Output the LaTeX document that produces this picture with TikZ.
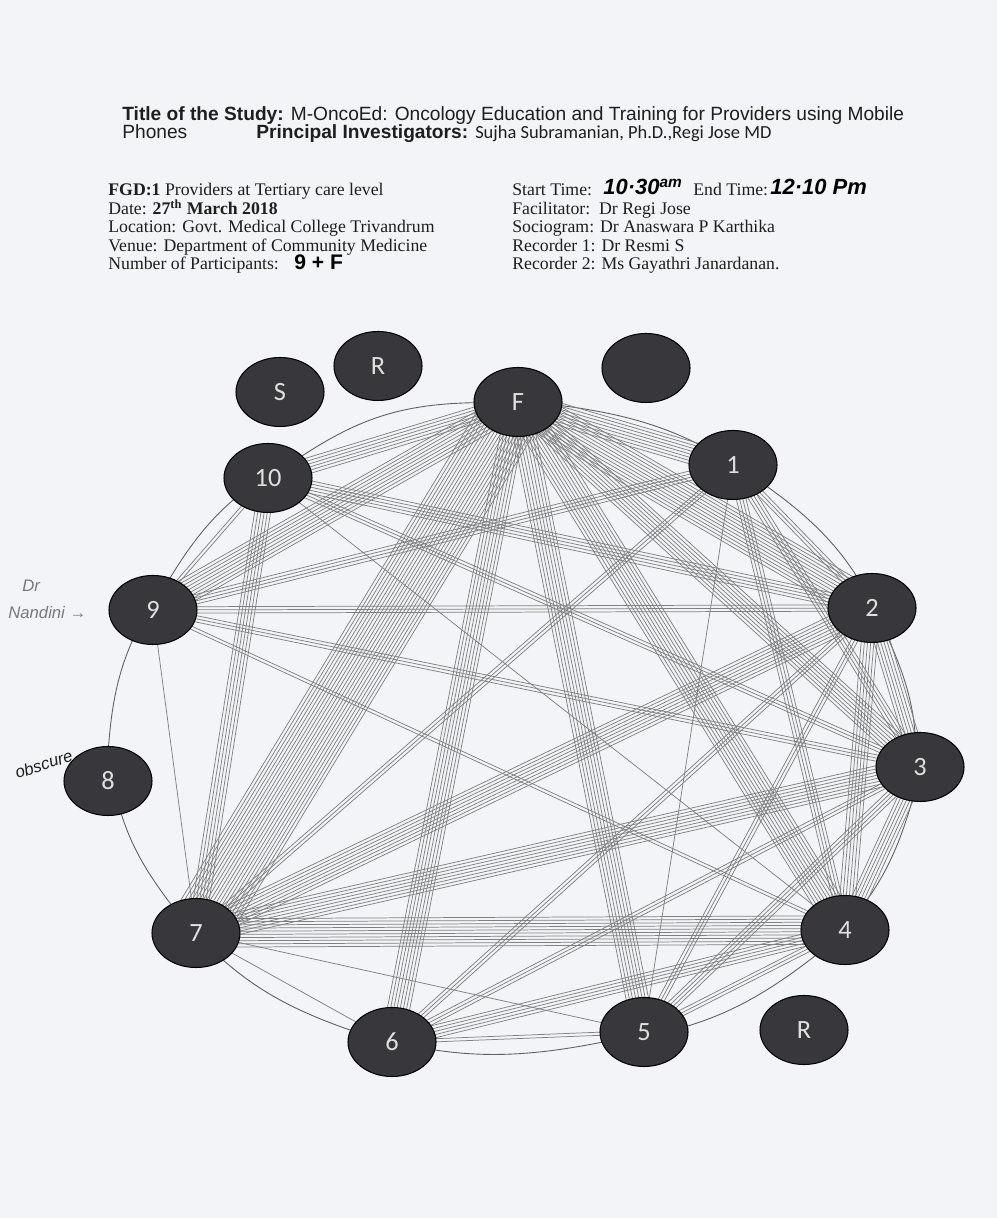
\documentclass[tikz,border=0pt]{standalone}
\usepackage{fontspec}
\setmainfont{Liberation Serif}
\setsansfont{Liberation Sans}
\newfontfamily\calfont{Carlito}
\usetikzlibrary{shapes.geometric,calc,backgrounds}
\definecolor{paper}{RGB}{243,244,247}
\definecolor{dot}{RGB}{56,56,60}
\definecolor{wire}{RGB}{128,128,130}
\definecolor{ink}{RGB}{30,30,30}
\definecolor{pencil}{RGB}{120,120,125}

\begin{document}
\begin{tikzpicture}
        \tikzset{vertex/.style = {shape=ellipse,draw=black,line width=0.6pt,fill=dot,minimum width=1.76cm,minimum height=1.38cm,inner sep=0pt,text=white!88!black,font=\calfont\fontsize{15}{18}\selectfont}}
        \tikzset{tie/.style = {draw=wire,line width=0.42pt}}
        \tikzset{ring/.style = {draw=wire!75!black,line width=0.5pt}}
        \tikzset{line/.style = {anchor=base west,text=ink,inner sep=0pt}}
        \tikzset{hand/.style = {anchor=base west,inner sep=0pt,font=\sffamily\bfseries\itshape}}
        \useasboundingbox (0,0) rectangle (19.94,24.36);
        % header
        \node[line,font=\sffamily\fontsize{10.9}{12}\selectfont] (title) at (2.44,21.94) {\textbf{Title of the Study:} M-OncoEd: Oncology Education and Training for Providers using Mobile};
        \node[line,font=\sffamily\fontsize{10.9}{12}\selectfont] (phones) at (2.44,21.58) {Phones};
        \node[line,font=\sffamily\fontsize{10.9}{12}\selectfont] (pi) at (5.12,21.58) {\textbf{Principal Investigators:} {\calfont\fontsize{10.5}{12}\selectfont Sujha Subramanian, Ph.D.,Regi Jose MD}};
        % left block
        \node[line,font=\fontsize{10.1}{12}\selectfont] (fgd) at (2.16,20.44) {\textbf{FGD:1} Providers at Tertiary care level};
        \node[line,font=\fontsize{10.1}{12}\selectfont] (date) at (2.16,20.07) {Date: \textbf{27\textsuperscript{th} March 2018}};
        \node[line,font=\fontsize{10.1}{12}\selectfont] (loc) at (2.16,19.70) {Location: Govt. Medical College Trivandrum};
        \node[line,font=\fontsize{10.1}{12}\selectfont] (venue) at (2.16,19.33) {Venue: Department of Community Medicine};
        \node[line,font=\fontsize{10.1}{12}\selectfont] (num) at (2.16,18.96) {Number of Participants:};
        \node[hand,font=\sffamily\bfseries\fontsize{12}{14}\selectfont] (count) at (5.88,18.96) {9 + F};
        % right block
        \node[line,font=\fontsize{10.1}{12}\selectfont] (start) at (10.24,20.44) {Start Time:};
        \node[hand,font=\sffamily\bfseries\itshape\fontsize{12.5}{14}\selectfont] (t1) at (12.06,20.46) {10·30\textsuperscript{am}};
        \node[line,font=\fontsize{10.1}{12}\selectfont] (end) at (13.86,20.44) {End Time:};
        \node[hand,font=\sffamily\bfseries\itshape\fontsize{12.5}{14}\selectfont] (t2) at (15.40,20.46) {12·10 Pm};
        \node[line,font=\fontsize{10.1}{12}\selectfont] (fac) at (10.24,20.07) {Facilitator:\ \ Dr Regi Jose};
        \node[line,font=\fontsize{10.1}{12}\selectfont] (soc) at (10.24,19.70) {Sociogram: Dr Anaswara P Karthika};
        \node[line,font=\fontsize{10.1}{12}\selectfont] (rec1) at (10.24,19.33) {Recorder 1: Dr Resmi S};
        \node[line,font=\fontsize{10.1}{12}\selectfont] (rec2) at (10.24,18.96) {Recorder 2: Ms Gayathri Janardanan.};
        % vertices
        \node[vertex] (s) at (5.60,16.52) {S};
        \node[vertex] (r1) at (7.56,17.04) {R};
        \node[vertex] (f) at (10.36,16.32) {F};
        \node[vertex] (blank) at (12.92,17.00) {};
        \node[vertex] (p1) at (14.66,15.06) {1};
        \node[vertex] (p2) at (17.44,12.20) {2};
        \node[vertex] (p3) at (18.40,9.02) {3};
        \node[vertex] (p4) at (16.90,5.76) {4};
        \node[vertex] (p5) at (12.88,3.72) {5};
        \node[vertex] (p6) at (7.84,3.52) {6};
        \node[vertex] (p7) at (3.92,5.70) {7};
        \node[vertex] (p8) at (2.16,8.74) {8};
        \node[vertex] (p9) at (3.06,12.16) {9};
        \node[vertex] (p10) at (5.36,14.80) {10};
        \node[vertex] (r2) at (16.08,3.76) {R};
        % notes
        \node[hand,text=pencil,font=\sffamily\itshape\fontsize{9.5}{10}\selectfont] (dr) at (0.44,12.52) {Dr};
        \node[hand,text=pencil,font=\sffamily\itshape\fontsize{9.5}{10}\selectfont] (nandini) at (0.16,11.98) {Nandini →};
        \node[hand,text=ink,rotate=18,font=\sffamily\itshape\fontsize{9.5}{10}\selectfont] (obscure) at (0.34,8.78) {obscure};
        %edges
        \begin{scope}[on background layer]
        \fill[paper] (0,0) rectangle (19.94,24.36);
        \draw[ring] (f) to[bend right=16] (p10) to[bend right=16] (p9) to[bend right=16] (p8)
                to[bend right=16] (p7) to[bend right=16] (p6) to[bend right=14] (p5)
                to[bend right=16] (p4) to[bend right=16] (p3) to[bend right=16] (p2)
                to[bend right=16] (p1) to[bend right=14] (f);
        \foreach \a/\b/\n in {f/p10/6, f/p9/9, f/p7/20, f/p6/8, f/p5/8, f/p4/10, f/p3/8, f/p2/12, f/p1/8,
                p10/p9/2, p10/p7/6, p10/p2/5, p10/p3/3, p10/p4/1,
                p9/p1/4, p9/p2/3, p9/p3/3, p9/p4/2, p9/p7/1,
                p1/p2/3, p1/p3/4, p1/p4/4, p1/p5/1, p1/p7/3,
                p2/p3/6, p2/p4/6, p2/p5/3, p2/p6/3, p2/p7/8,
                p3/p4/6, p3/p5/4, p3/p6/3, p3/p7/8,
                p4/p5/3, p4/p6/5, p4/p7/10,
                p5/p6/2, p5/p7/1, p6/p7/1}{
            \foreach \k in {1,...,\n}{
                \pgfmathsetmacro\off{(\k-(\n+1)/2)*1.8}
                \draw[tie] ($(\a)!\off pt!90:(\b)$) -- ($(\b)!\off pt!-90:(\a)$);
            }
        }
        \end{scope}
\end{tikzpicture}
\end{document}
